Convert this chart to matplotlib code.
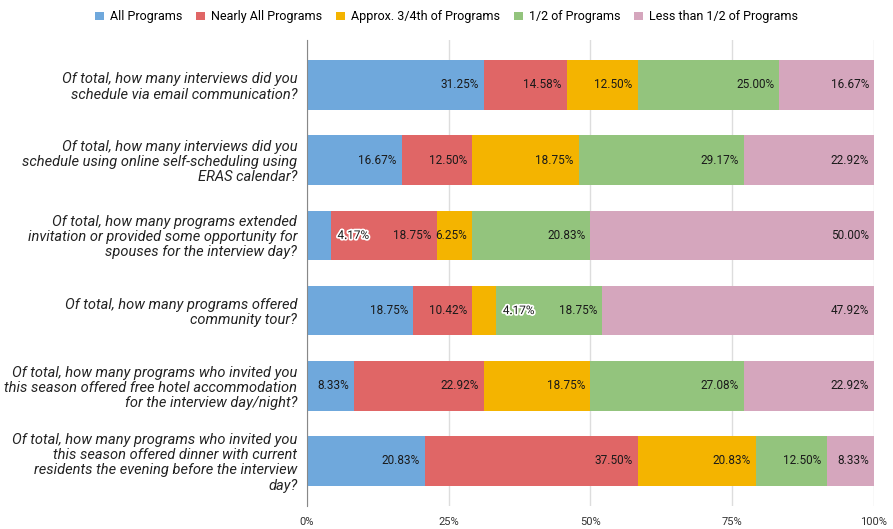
import matplotlib.pyplot as plt
import matplotlib.patheffects as pe

plt.rcParams['font.family'] = ['Roboto', 'DejaVu Sans']

# Survey questions (rows, top to bottom)
questions = [
    'Of total, how many interviews did you\nschedule via email communication?',
    'Of total, how many interviews did you\nschedule using online self-scheduling using\nERAS calendar?',
    'Of total, how many programs extended\ninvitation or provided some opportunity for\nspouses for the interview day?',
    'Of total, how many programs offered\ncommunity tour?',
    'Of total, how many programs who invited you\nthis season offered free hotel accommodation\nfor the interview day/night?',
    'Of total, how many programs who invited you\nthis season offered dinner with current\nresidents the evening before the interview\nday?',
]

series_names = ['All Programs', 'Nearly All Programs', 'Approx. 3/4th of Programs',
                '1/2 of Programs', 'Less than 1/2 of Programs']

all_programs = [31.25, 16.67, 4.17, 18.75, 8.33, 20.83]
nearly_all = [14.58, 12.50, 18.75, 10.42, 22.92, 37.50]
three_quarters = [12.50, 18.75, 6.25, 4.17, 18.75, 20.83]
half = [25.00, 29.17, 20.83, 18.75, 27.08, 12.50]
less_than_half = [16.67, 22.92, 50.00, 47.92, 22.92, 8.33]

colors = ['#6fa8dc', '#e06666', '#f4b400', '#93c47d', '#d5a6bd']

series = [all_programs, nearly_all, three_quarters, half, less_than_half]

fig = plt.figure(figsize=(8.93, 5.29), dpi=100)
ax = fig.add_axes([0.3438, 0.0435, 0.6349, 0.8811])

y = list(range(len(questions)))
left = [0.0] * len(questions)
for name, vals, col in zip(series_names, series, colors):
    ax.barh(y, vals, left=left, height=0.66, color=col, label=name, zorder=3)
    for i, v in enumerate(vals):
        end = left[i] + v
        if v >= 5:
            ax.text(end - 0.9, i, f'{v:.2f}%', ha='right', va='center',
                    fontsize=8.5, color='#1a1a1a', zorder=4)
        else:
            ax.text(end + 1.2, i, f'{v:.2f}%', ha='left', va='center',
                    fontsize=8.5, color='#1a1a1a', zorder=4,
                    path_effects=[pe.withStroke(linewidth=2.5, foreground='white')])
        left[i] = end

ax.set_xlim(0, 100)
ax.set_ylim(5.6, -0.6)
ax.set_xticks([0, 25, 50, 75, 100])
ax.set_xticklabels(['0%', '25%', '50%', '75%', '100%'], fontsize=8, color='#333333')
ax.set_yticks(y)
ax.set_yticklabels(questions, fontsize=10.5, style='italic', color='#222222',
                   linespacing=1.1)
ax.tick_params(axis='both', length=0)
ax.tick_params(axis='y', pad=7)
ax.tick_params(axis='x', pad=8)
ax.grid(axis='x', color='#dddddd', linewidth=1, zorder=0)
for s in ['top', 'right', 'bottom']:
    ax.spines[s].set_visible(False)
ax.spines['left'].set_color('#888888')
ax.spines['left'].set_zorder(5)

fig.legend(loc='center', bbox_to_anchor=(0.5, 0.968), ncol=5, frameon=False,
           fontsize=9, handlelength=0.7, handleheight=0.7, handletextpad=0.5,
           columnspacing=1.1)

plt.savefig('out.png', dpi=100)
